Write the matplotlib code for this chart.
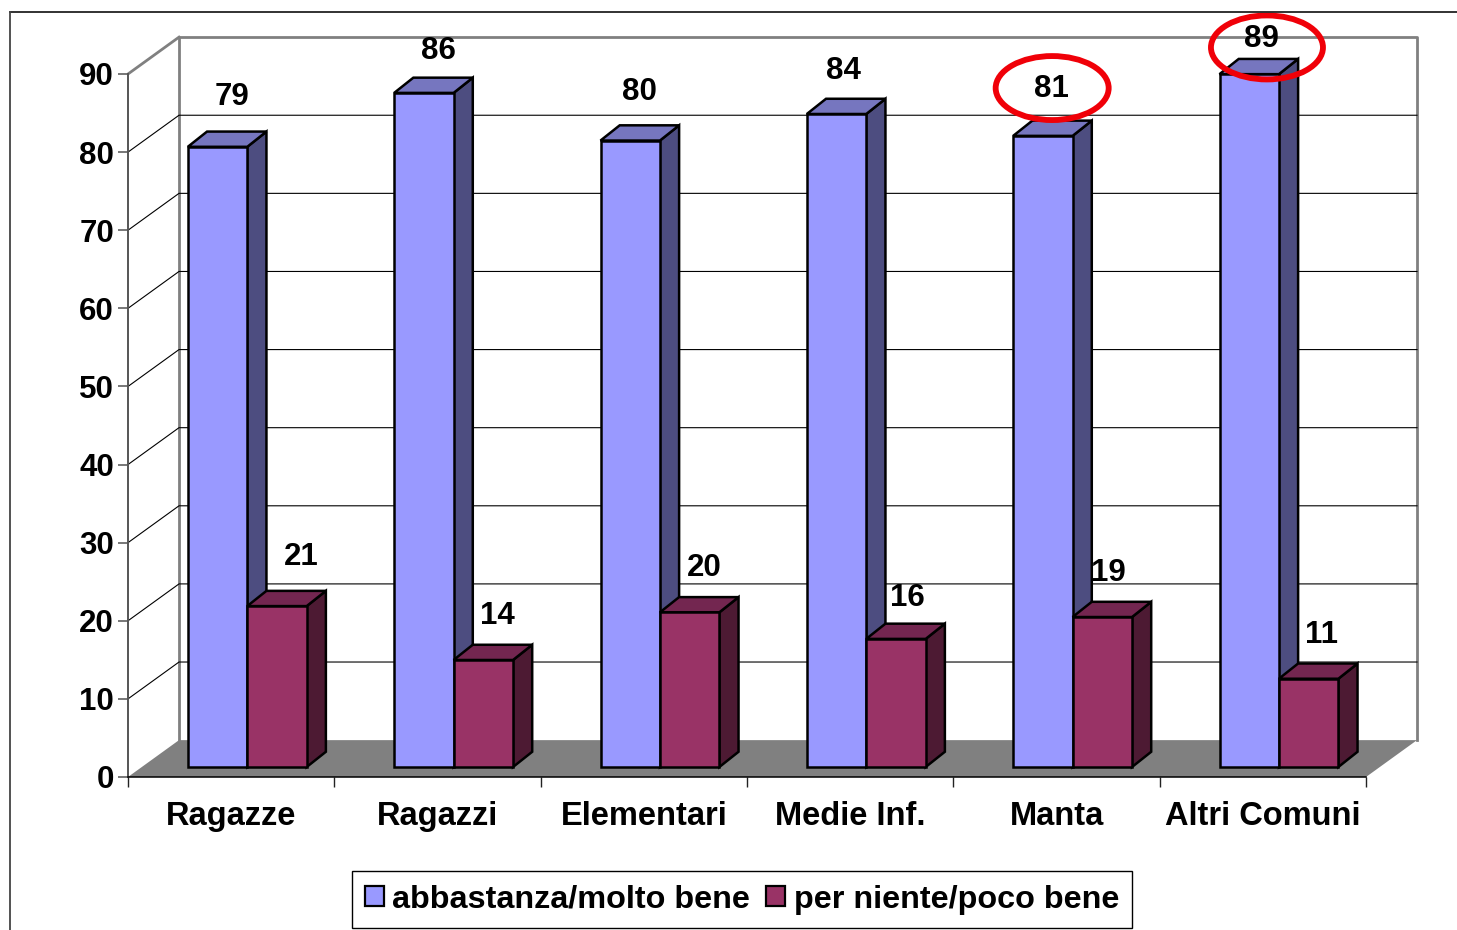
import matplotlib

matplotlib.use("Agg")
import matplotlib.pyplot as plt
from matplotlib.lines import Line2D
from matplotlib.patches import Ellipse, Patch, Polygon

categories = ["Ragazze", "Ragazzi", "Elementari", "Medie Inf.", "Manta", "Altri Comuni"]
bene = [79.4, 86.3, 80.2, 83.6, 80.8, 88.7]
male = [20.6, 13.7, 19.8, 16.4, 19.2, 11.3]
series_names = ["abbastanza/molto bene", "per niente/poco bene"]
y_ticks = list(range(0, 100, 10))

# label nudges in pixels, the original labels were placed by hand
bene_nudge = [(14.5, 50), (14.5, 42), (9.5, 49), (6.5, 43), (8.5, 47), (12.5, 35)]
male_nudge = [(24, 49), (14, 44), (15, 44), (11, 41), (6, 44), (13, 44)]

FONT = "Liberation Sans"
PX = 0.72  # points per pixel at dpi 100

# fake 3d: depth of the walls and of the bars, in data units
WALL_DX, WALL_DY = 0.2472, 4.72
BAR_X0, BAR_Y0 = 0.29, 1.28
BAR_W = 0.288
SIDE_DX, SIDE_DY = 0.093, 1.95


def draw_box(ax, x, value, front, top, side):
    y0 = BAR_Y0
    y1 = BAR_Y0 + value
    style = dict(edgecolor="black", linewidth=1.8, joinstyle="miter", clip_on=False, zorder=3)
    ax.add_patch(Polygon([(x + BAR_W, y0), (x + BAR_W + SIDE_DX, y0 + SIDE_DY),
                          (x + BAR_W + SIDE_DX, y1 + SIDE_DY), (x + BAR_W, y1)],
                         facecolor=side, **style))
    ax.add_patch(Polygon([(x, y1), (x + BAR_W, y1), (x + BAR_W + SIDE_DX, y1 + SIDE_DY),
                          (x + SIDE_DX, y1 + SIDE_DY)], facecolor=top, **style))
    ax.add_patch(Polygon([(x, y0), (x + BAR_W, y0), (x + BAR_W, y1), (x, y1)],
                         facecolor=front, **style))


def draw_label(ax, x, value, nudge):
    ax.annotate(f"{value:.0f}", (x + BAR_W / 2, BAR_Y0 + value),
                xytext=(nudge[0] * PX, nudge[1] * PX), textcoords="offset points",
                ha="center", va="center", fontsize=22.5, fontweight="bold",
                family=FONT, color="black", zorder=5)


fig = plt.figure(figsize=(14.57, 9.30), dpi=100, facecolor="white")
ax = fig.add_axes([128 / 1457, 1 - 777 / 930, 1238 / 1457, 703 / 930])
ax.set_xlim(0, len(categories))
ax.set_ylim(0, 90)
ax.patch.set_visible(False)

# outer frame of the pasted slide
fig.add_artist(Line2D([10 / 1457, 1], [1 - 12 / 930] * 2, color="#222222", lw=1.3))
fig.add_artist(Line2D([10 / 1457] * 2, [0, 1 - 12 / 930], color="#444444", lw=1.3))

n = len(categories)

# floor and back wall
ax.add_patch(Polygon([(0, 0), (n, 0), (n + WALL_DX, WALL_DY), (WALL_DX, WALL_DY)],
                     facecolor="#808080", edgecolor="none", clip_on=False, zorder=1))
ax.plot([WALL_DX, WALL_DX, n + WALL_DX, n + WALL_DX],
        [WALL_DY, 90 + WALL_DY, 90 + WALL_DY, WALL_DY],
        color="#808080", lw=2, clip_on=False, zorder=1)
ax.plot([0, WALL_DX], [90, 90 + WALL_DY], color="#808080", lw=2, clip_on=False, zorder=1)

# gridlines, side wall then back wall
for v in y_ticks[1:-1]:
    ax.plot([0, WALL_DX, n + WALL_DX], [v, v + WALL_DY, v + WALL_DY],
            color="black", lw=0.8, clip_on=False, zorder=1.5)

for i in range(n):
    x_bene = i + BAR_X0
    x_male = x_bene + BAR_W
    draw_box(ax, x_bene, bene[i], "#9999FF", "#7676BF", "#4D4D80")
    draw_box(ax, x_male, male[i], "#993366", "#732650", "#4D1A33")
    draw_label(ax, x_bene, bene[i], bene_nudge[i])
    draw_label(ax, x_male, male[i], male_nudge[i])

# hand drawn red rings round the last two blue values
for i, dx, dy, w, h in [(4, 0.479, 88.2, 113, 64), (5, 0.52, 93.4, 112, 64)]:
    ax.add_patch(Ellipse((i + dx, dy), w / 206.3, h / 7.811, facecolor="none",
                         edgecolor="#F00008", lw=4.2, clip_on=False, zorder=6))

for side in ["top", "right"]:
    ax.spines[side].set_visible(False)
ax.spines["left"].set_color("#555555")
ax.spines["left"].set_linewidth(1.4)
ax.spines["bottom"].set_color("black")
ax.spines["bottom"].set_linewidth(1.1)
ax.spines["left"].set_zorder(2)
ax.spines["bottom"].set_zorder(2)

ax.set_yticks(y_ticks)
ax.set_yticklabels([str(v) for v in y_ticks], fontsize=22.5, fontweight="bold", family=FONT)
ax.tick_params(axis="y", length=10 * PX, width=1.4, color="#777777", pad=4 * PX)

ax.set_xticks(range(n + 1))
ax.set_xticklabels([])
ax.tick_params(axis="x", which="major", length=10 * PX, width=1, color="#222222")
ax.set_xticks([i + 0.5 for i in range(n)], minor=True)
ax.set_xticklabels(categories, minor=True, fontsize=23.5, fontweight="bold", family=FONT)
ax.tick_params(axis="x", which="minor", length=0, pad=24 * PX)

handles = [Patch(facecolor="#9999FF", edgecolor="black", lw=1.6, label=series_names[0]),
           Patch(facecolor="#993366", edgecolor="black", lw=1.6, label=series_names[1])]
fig.legend(handles=handles, loc="center", bbox_to_anchor=(742 / 1457, 1 - 899.5 / 930),
           ncol=2, frameon=True, fancybox=False, edgecolor="black", framealpha=1,
           prop={"family": FONT, "weight": "bold", "size": 23.3},
           handlelength=0.58, handleheight=0.58, handletextpad=0.26,
           columnspacing=0.5, borderpad=0.42, borderaxespad=0)

fig.savefig("out.png", dpi=100)
